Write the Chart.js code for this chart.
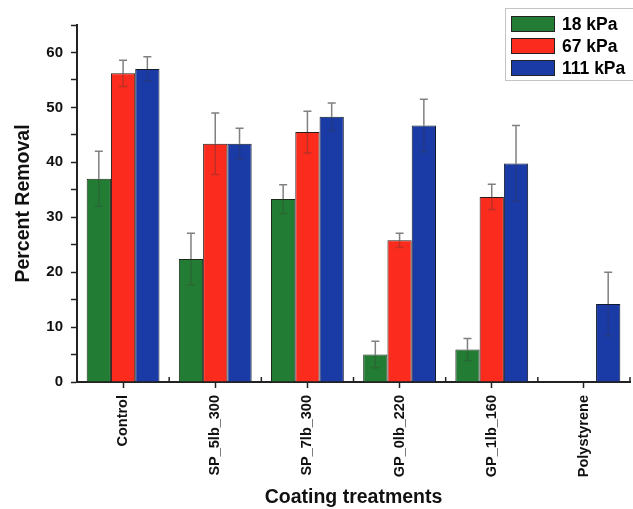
<!DOCTYPE html>
<html>
<head>
<meta charset="utf-8">
<script src="https://cdn.jsdelivr.net/npm/chart.js@4/dist/chart.umd.min.js"></script>
<style>
  html, body { margin: 0; padding: 0; background: #fff; }
  #wrap { width: 633px; height: 509px; }
</style>
</head>
<body>
<div id="wrap"><canvas id="removalChart" width="633" height="509"></canvas></div>
<script>
// Coating treatments tested
var treatments = ['Control', 'SP_5lb_300', 'SP_7lb_300', 'GP_0lb_220', 'GP_1lb_160', 'Polystyrene'];

// Mean percent removal at each pressure
var removal18 = [37.0, 22.4, 33.3, 5.0, 5.9, 0];
var removal67 = [56.2, 43.4, 45.5, 25.8, 33.7, 0];
var removal111 = [57.0, 43.4, 48.3, 46.7, 39.8, 14.2];

// Standard deviations (error bars)
var err18 = [5.0, 4.7, 2.6, 2.4, 2.0, 0];
var err67 = [2.4, 5.6, 3.8, 1.3, 2.3, 0];
var err111 = [2.2, 2.8, 2.5, 4.8, 6.9, 5.8];

var yTicks = [0, 10, 20, 30, 40, 50, 60];

var FONT = "'Liberation Sans', Arial, sans-serif";
var AXIS = '#222';

// error bars drawn on top of the bars, then the minor x ticks and the legend box
var extras = {
  id: 'extras',
  afterDatasetsDraw: function (chart) {
    var ctx = chart.ctx;
    var y = chart.scales.y;
    ctx.save();
    chart.data.datasets.forEach(function (ds, di) {
      var meta = chart.getDatasetMeta(di);
      meta.data.forEach(function (bar, i) {
        var e = ds.errors[i];
        if (!e) return;
        var v = ds.data[i];
        var top = y.getPixelForValue(v + e);
        var low = y.getPixelForValue(v - e);
        ctx.lineWidth = 1.5;
        ctx.strokeStyle = 'rgba(55,55,55,0.3)';
        ctx.beginPath();
        ctx.moveTo(bar.x, bar.y);
        ctx.lineTo(bar.x, low);
        ctx.moveTo(bar.x - 4, low);
        ctx.lineTo(bar.x + 4, low);
        ctx.stroke();
        ctx.strokeStyle = 'rgba(60,60,60,0.65)';
        ctx.beginPath();
        ctx.moveTo(bar.x, bar.y);
        ctx.lineTo(bar.x, top);
        ctx.moveTo(bar.x - 4, top);
        ctx.lineTo(bar.x + 4, top);
        ctx.stroke();
      });
    });
    ctx.restore();
  },
  afterDraw: function (chart) {
    var ctx = chart.ctx;
    var x = chart.scales.x;
    var area = chart.chartArea;
    ctx.save();

    // minor ticks between categories
    var step = x.getPixelForValue(1) - x.getPixelForValue(0);
    ctx.strokeStyle = AXIS;
    ctx.lineWidth = 1.5;
    for (var i = 0; i <= treatments.length; i++) {
      var px = x.getPixelForValue(i) - step / 2;
      ctx.beginPath();
      ctx.moveTo(px, area.bottom);
      ctx.lineTo(px, area.bottom - 5);
      ctx.stroke();
    }

    // legend
    var lx = chart.width - 128, ly = 8;
    ctx.strokeStyle = '#888';
    ctx.lineWidth = 1;
    ctx.setLineDash([1, 1]);
    ctx.strokeRect(lx + 0.5, ly + 0.5, 160, 72);
    ctx.setLineDash([]);
    ctx.font = 'bold 17.5px ' + FONT;
    ctx.textBaseline = 'middle';
    ctx.fillStyle = '#000';
    chart.data.datasets.forEach(function (ds, di) {
      var sy = ly + 8 + di * 22;
      ctx.fillStyle = ds.backgroundColor;
      ctx.fillRect(lx + 6, sy, 44, 16);
      ctx.strokeStyle = '#222';
      ctx.strokeRect(lx + 6.5, sy + 0.5, 43, 15);
      ctx.fillStyle = '#000';
      ctx.fillText(ds.label, lx + 57, sy + 9);
    });
    ctx.restore();
  }
};

var ctx = document.getElementById('removalChart').getContext('2d');

new Chart(ctx, {
  type: 'bar',
  data: {
    labels: treatments,
    datasets: [
      {
        label: '18 kPa',
        data: removal18,
        errors: err18,
        backgroundColor: '#237c33',
        borderColor: '#1a2a1a',
        borderWidth: 1,
      },
      {
        label: '67 kPa',
        data: removal67,
        errors: err67,
        backgroundColor: '#fb2c1e',
        borderColor: '#2a1a1a',
        borderWidth: 1,
      },
      {
        label: '111 kPa',
        data: removal111,
        errors: err111,
        backgroundColor: '#1a3aa6',
        borderColor: '#111a2a',
        borderWidth: 1,
      },
    ],
  },
  options: {
    responsive: false,
    animation: false,
    layout: { padding: { top: 25, right: 3, left: 0, bottom: 0 } },
    plugins: {
      legend: { display: false },
      tooltip: { enabled: false },
    },
    datasets: {
      bar: { categoryPercentage: 0.79, barPercentage: 1.0 },
    },
    scales: {
      x: {
        offset: true,
        grid: {
          offset: false,
          drawOnChartArea: false,
          drawTicks: true,
          tickLength: 6,
          tickColor: AXIS,
          tickWidth: 1.5,
        },
        border: { display: true, color: AXIS, width: 2 },
        ticks: {
          minRotation: 90,
          maxRotation: 90,
          padding: 7,
          color: '#111',
          font: { family: FONT, size: 14.5, weight: 'bold' },
        },
        title: {
          display: true,
          text: 'Coating treatments',
          color: '#111',
          padding: { top: 0, bottom: 0 },
          font: { family: FONT, size: 19.5, weight: 'bold' },
        },
        afterFit: function (scale) { scale.height = 127; },
      },
      y: {
        min: 0,
        max: 65,
        grid: {
          drawOnChartArea: false,
          drawTicks: true,
          tickLength: 6,
          tickColor: AXIS,
          tickWidth: 1.5,
        },
        border: { display: true, color: AXIS, width: 2 },
        ticks: {
          stepSize: 5,
          padding: 8,
          color: '#111',
          font: { family: FONT, size: 15, weight: 'bold' },
          callback: function (v) { return yTicks.indexOf(v) >= 0 ? v : ''; },
        },
        title: {
          display: true,
          text: 'Percent Removal',
          color: '#111',
          padding: { top: 12, bottom: 0 },
          font: { family: FONT, size: 19.5, weight: 'bold' },
        },
        afterFit: function (scale) { scale.width = 77; },
      },
    },
  },
  plugins: [extras],
});
</script>
</body>
</html>
